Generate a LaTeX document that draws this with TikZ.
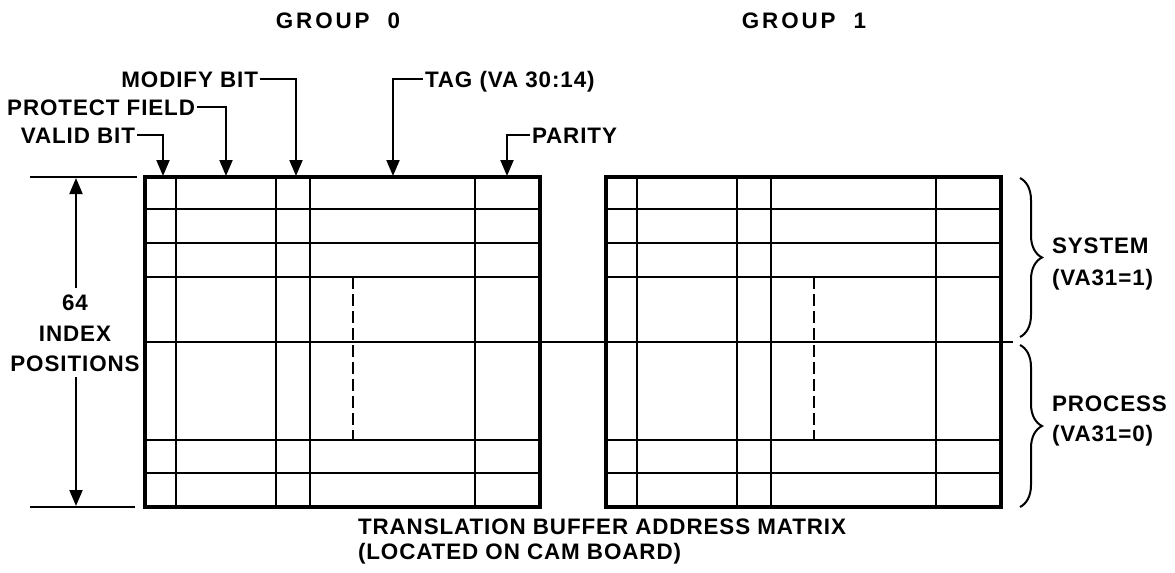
\documentclass[tikz,border=0pt]{standalone}
\usepackage{fontspec}
\setmainfont{Liberation Sans}[LetterSpace=4]
\newfontfamily\headfont{Liberation Sans}[LetterSpace=13]
\usetikzlibrary{arrows.meta,decorations.pathreplacing,calc}
\begin{document}
\begin{tikzpicture}[x=0.5pt,y=-0.5pt,
  lbl/.style={inner sep=0pt, outer sep=1pt, text height=8pt, text depth=0pt,
    font=\fontsize{11.2pt}{13pt}\selectfont\bfseries},
  head/.style={lbl, font=\fontsize{11.2pt}{13pt}\headfont\bfseries},
  arr/.style={line width=1pt, -{Triangle[length=8pt,width=6.5pt]}},
  thinline/.style={line width=1pt},
  frame/.style={line width=2pt},
  dashline/.style={line width=1pt, dash pattern=on 6pt off 2.5pt},
  bracestyle/.style={line width=1pt, decorate, decoration={brace, amplitude=11pt}}
]
\useasboundingbox (0,0) rectangle (1175,573);

% group titles
\node[head] (g0) at (338,20) {GROUP\hspace{9pt}0};
\node[head] (g1) at (804,20) {GROUP\hspace{9pt}1};

% grids
\foreach \ox in {145,606} {
  \begin{scope}[shift={(\ox,0)}]
    \foreach \yy in {209,243,277,440,473} \draw[thinline] (0,\yy) -- (395,\yy);
    \foreach \xx in {31,131,165,330} \draw[thinline] (\xx,177) -- (\xx,507);
    \draw[dashline] (208,277) -- (208,440);
    \draw[frame] (0,177) rectangle (395,507);
  \end{scope}
}
\draw[thinline] (145,342) -- (1013,342);

% field labels
\node[lbl, anchor=east] (valid) at (137,135) {VALID BIT};
\node[lbl, anchor=east] (protect) at (197,107) {PROTECT FIELD};
\node[lbl, anchor=east] (modify) at (260,79) {MODIFY BIT};
\node[lbl, anchor=west] (tag) at (423,79) {TAG (VA 30:14)};
\node[lbl, anchor=west] (parity) at (530,135) {PARITY};
\coordinate (tvalid) at (163,176);
\coordinate (tprotect) at (226,176);
\coordinate (tmodify) at (296,176);
\coordinate (ttag) at (393,176);
\coordinate (tparity) at (507,176);
\draw[arr] (valid.east) -| (tvalid);
\draw[arr] (protect.east) -| (tprotect);
\draw[arr] (modify.east) -| (tmodify);
\draw[arr] (tag.west) -| (ttag);
\draw[arr] (parity.west) -| (tparity);

% left dimension
\coordinate (dtopl) at (30,177);
\coordinate (dtopr) at (137,177);
\coordinate (dbotl) at (30,507);
\coordinate (dbotr) at (135,507);
\draw[thinline] (dtopl) -- (dtopr);
\draw[thinline] (dbotl) -- (dbotr);
\node[lbl] (n64) at (75,302) {64};
\node[lbl] (idx) at (75,333) {INDEX};
\node[lbl] (pos) at (75,363) {POSITIONS};
\coordinate (atop) at (76,178);
\coordinate (abot) at (76,506);
\draw[arr] ($(n64.north)+(1,-4)$) -- (atop);
\draw[arr] ($(pos.south)+(1,4)$) -- (abot);

% braces
\draw[bracestyle] (1020,178) -- (1020,337);
\draw[bracestyle] (1020,345) -- (1020,507);
\node[lbl, anchor=west] (sys) at (1050,245) {SYSTEM};
\node[lbl, anchor=west] (sysva) at (1050,277) {(VA31=1)};
\node[lbl, anchor=west] (proc) at (1050,403) {PROCESS};
\node[lbl, anchor=west] (procva) at (1050,433) {(VA31=0)};

% caption
\node[lbl, anchor=west] (cap1) at (356,526) {TRANSLATION BUFFER ADDRESS MATRIX};
\node[lbl, anchor=west] (cap2) at (356,551) {(LOCATED ON CAM BOARD)};
\end{tikzpicture}
\end{document}
